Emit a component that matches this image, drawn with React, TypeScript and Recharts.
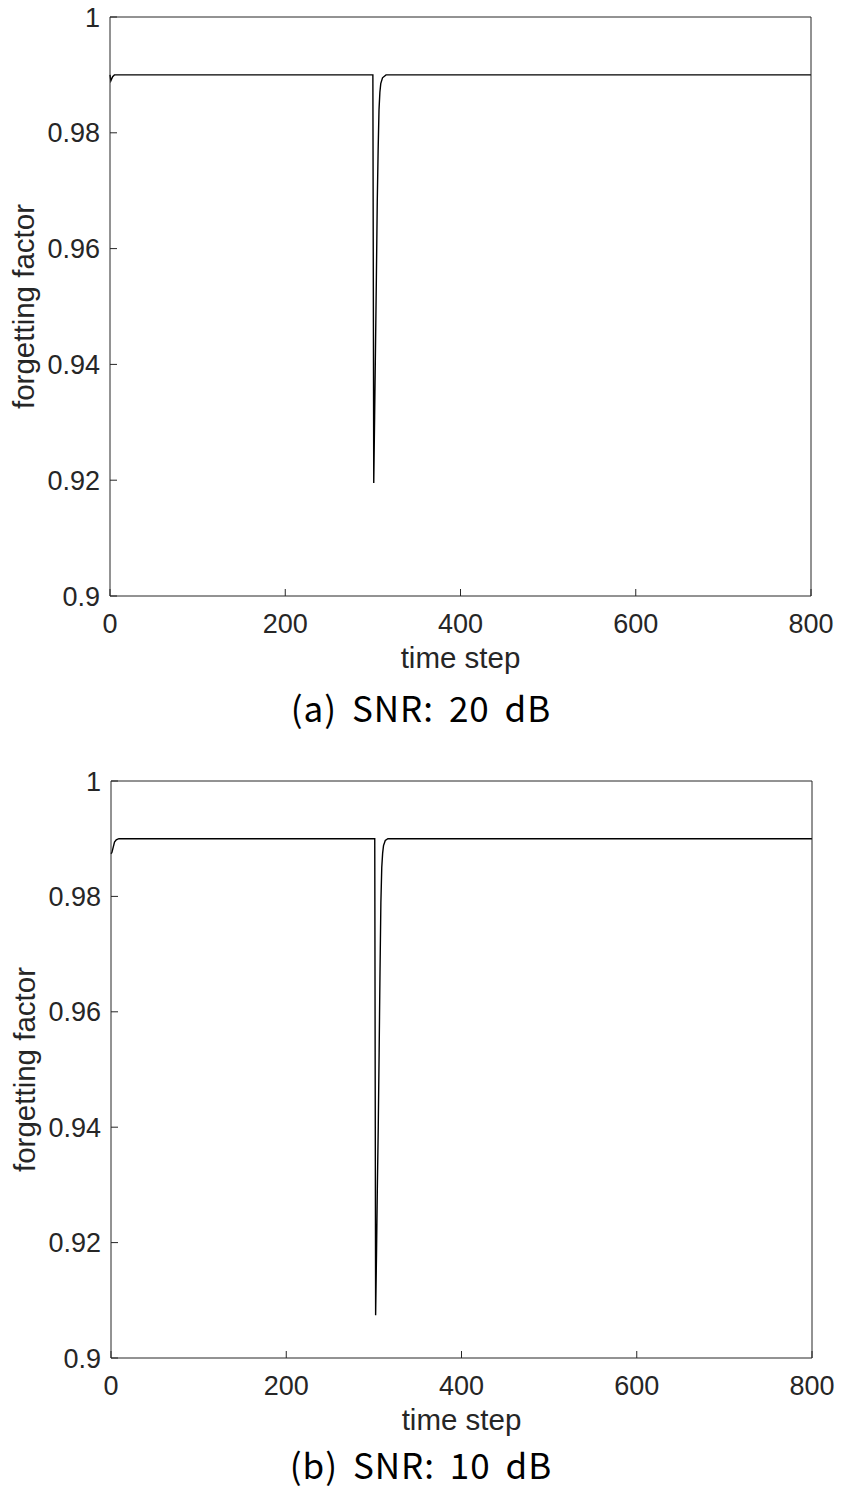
import { LineChart, Line, XAxis, YAxis } from 'recharts';

// time steps and forgetting factor values
const stepsA = [0, 1, 3, 5, 300, 301, 302, 303, 304, 305, 306, 307, 308, 309, 311, 315, 800];
const factorA = [0.99, 0.989, 0.9897, 0.99, 0.99, 0.9195, 0.931, 0.943, 0.955, 0.968, 0.977, 0.984, 0.987, 0.9885, 0.9895, 0.99, 0.99];

const stepsB = [0, 1, 2, 4, 6, 9, 301, 302, 303, 304, 305, 306, 307, 308, 309, 310, 311, 313, 316, 800];
const factorB = [0.9874, 0.9876, 0.9882, 0.9894, 0.9898, 0.99, 0.99, 0.9074, 0.918, 0.93, 0.94, 0.953, 0.967, 0.979, 0.985, 0.9875, 0.9888, 0.9897, 0.99, 0.99];

const xTicks = [0, 200, 400, 600, 800];
const yTicks = [0.9, 0.92, 0.94, 0.96, 0.98, 1];

const AXIS = '#262626';
const FONT = '"Liberation Sans", Arial, sans-serif';

interface PanelProps {
  steps: number[];
  factor: number[];
  top: number;
  margin: { top: number; right: number; left: number; bottom: number };
  caption: string;
  captionY: number;
}

const fmtY = (v: number) => String(+v.toFixed(2));

function FactorPanel({ steps, factor, top, margin, caption, captionY }: PanelProps) {
  const data = steps.map((s, i) => ({ step: s, factor: factor[i] }));
  const tickStyle = { fill: AXIS, fontSize: 27, fontFamily: FONT };

  // rotated y title, centred on the plot
  const yTitle = (props: any) => {
    const vb = props.viewBox;
    const cx = vb.x + 13;
    const cy = vb.y + vb.height / 2;
    return (
      <text
        x={cx}
        y={cy}
        transform={`rotate(-90 ${cx} ${cy})`}
        textAnchor="middle"
        dominantBaseline="central"
        fill={AXIS}
        fontSize={29.5}
        fontFamily={FONT}
      >
        forgetting factor
      </text>
    );
  };

  return (
    <>
      <div style={{ position: 'absolute', left: 0, top }}>
        <LineChart width={844} height={680} data={data} margin={margin}>
          <XAxis
            dataKey="step"
            type="number"
            domain={[0, 800]}
            ticks={xTicks}
            interval={0}
            height={80}
            stroke={AXIS}
            tickSize={-7}
            tickMargin={25}
            tick={tickStyle}
            label={{ value: 'time step', position: 'insideBottom', offset: 8, fill: AXIS, fontSize: 29.5, fontFamily: FONT }}
          />
          <XAxis
            xAxisId="top"
            orientation="top"
            type="number"
            domain={[0, 800]}
            ticks={xTicks}
            height={1}
            stroke={AXIS}
            tickSize={-7}
            tick={false}
          />
          <YAxis
            type="number"
            domain={[0.9, 1]}
            ticks={yTicks}
            interval={0}
            width={100}
            stroke={AXIS}
            tickSize={-7}
            tickMargin={17}
            tick={tickStyle}
            tickFormatter={fmtY}
            label={yTitle}
          />
          <YAxis
            yAxisId="right"
            orientation="right"
            type="number"
            domain={[0.9, 1]}
            ticks={yTicks}
            width={1}
            stroke={AXIS}
            tickSize={-7}
            tick={false}
          />
          <Line
            type="linear"
            dataKey="factor"
            stroke="#000"
            strokeWidth={1.4}
            dot={false}
            isAnimationActive={false}
          />
        </LineChart>
      </div>
      <div
        style={{
          position: 'absolute',
          left: 0,
          width: 842,
          top: captionY - 25,
          height: 50,
          lineHeight: '50px',
          textAlign: 'center',
          fontFamily: '"Noto Sans CJK KR", sans-serif',
          fontSize: 35,
          color: '#000',
          letterSpacing: 1,
          wordSpacing: 6,
        }}
      >
        {caption}
      </div>
    </>
  );
}

export default function App() {
  return (
    <div style={{ position: 'absolute', left: 0, top: 0, width: 844, height: 1492, background: '#fff' }}>
      <FactorPanel
        steps={stepsA}
        factor={factorA}
        top={0}
        margin={{ top: 16, right: 32, left: 10, bottom: 4 }}
        caption="(a) SNR: 20 dB"
        captionY={707}
      />
      <FactorPanel
        steps={stepsB}
        factor={factorB}
        top={760}
        margin={{ top: 20, right: 31, left: 11, bottom: 2 }}
        caption="(b) SNR: 10 dB"
        captionY={1464}
      />
    </div>
  );
}
